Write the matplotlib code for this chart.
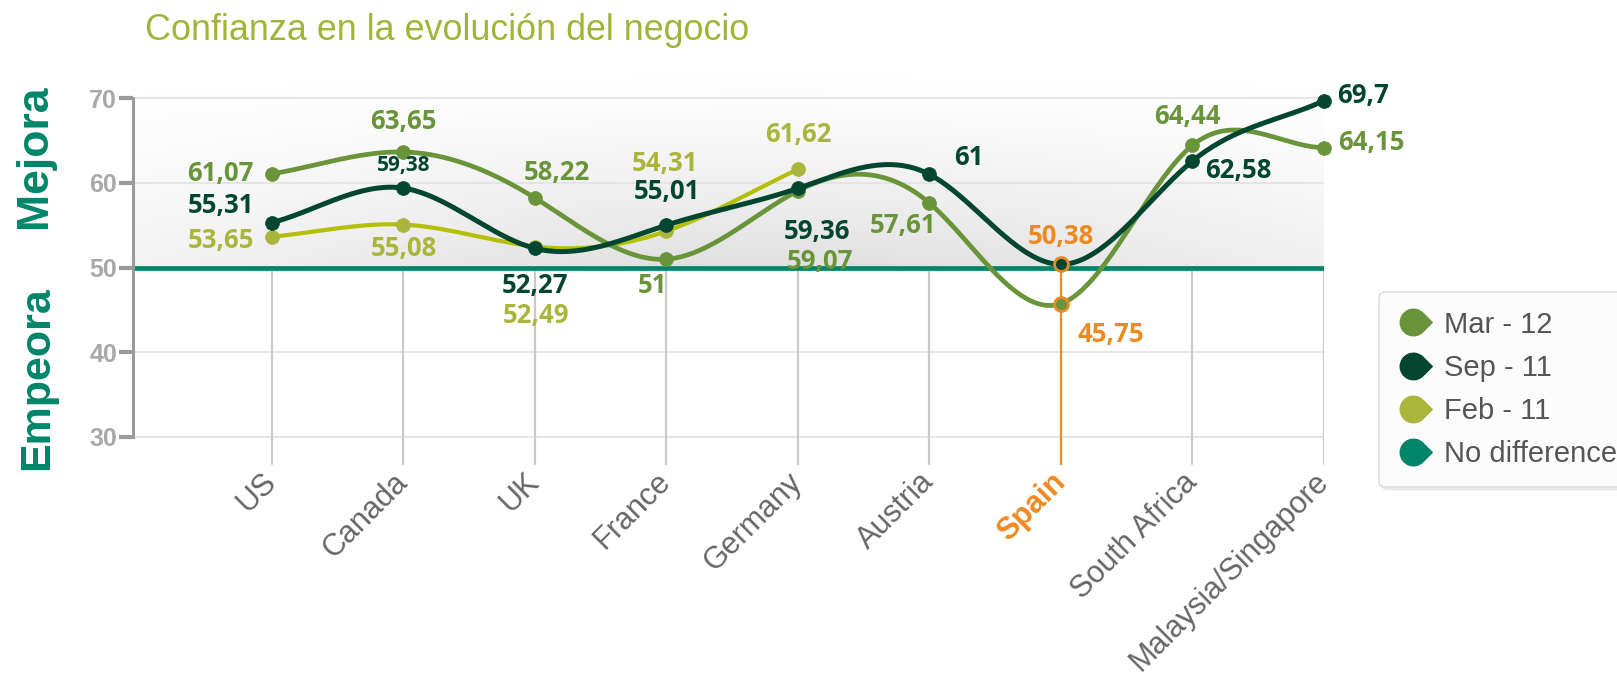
import numpy as np
import matplotlib
matplotlib.use("Agg")
from matplotlib import pyplot as plt
from matplotlib.path import Path
from matplotlib.lines import Line2D

countries = ["US", "Canada", "UK", "France", "Germany", "Austria", "Spain",
             "South Africa", "Malaysia/Singapore"]
mar12 = [61.07, 63.65, 58.22, 51, 59.07, 57.61, 45.75, 64.44, 64.15]
sep11 = [55.31, 59.38, 52.27, 55.01, 59.36, 61, 50.38, 62.58, 69.7]
feb11 = [53.65, 55.08, 52.49, 54.31, 61.62]
legend_labels = ["Mar - 12", "Sep - 11", "Feb - 11", "No difference"]
yticks = [30, 40, 50, 60, 70]
baseline = 50
highlight = "Spain"
title = "Confianza en la evolución del negocio"

# where each value label sits relative to its point (points)
mar12_off = [(-37, 0), (0, 22), (16, 18), (-10, -19), (16, -51), (-19, -16), (36, -22), (-4, 21), (34, 4)]
sep11_off = [(-37, 12), (0, 16), (0, -27), (0, 24), (14, -31), (28, 12), (0, 20), (33, -7), (28, 4)]
feb11_off = [(-37, -3), (0, -17), (1, -50), (-1, 49), (0, 25)]

c_mar = "#6a943a"
c_sep = "#03462f"
c_feb = "#aab63b"
c_feb_line = "#b4c007"
c_teal = "#00856a"
c_orange = "#ec8a22"
c_title = "#9fb53a"

W, H = 1617, 676
fig = plt.figure(figsize=(W / 100, H / 100), dpi=100)
ax = fig.add_axes([133 / W, (H - 465) / H, 1191 / W, 405 / H])

ybot = 30 - (465 - 437) / 8.47
ytop = ybot + 405 / 8.47
xl = -1.057
n = len(countries)
sp = countries.index(highlight)


def smooth(y, steps=40):
    # cubic spline, end slopes equal to the end chords
    y = np.asarray(y, float)
    k = len(y)
    A = np.zeros((k, k))
    d = np.zeros(k)
    A[0, 0], A[0, 1] = 2, 1
    A[-1, -1], A[-1, -2] = 2, 1
    for i in range(1, k - 1):
        A[i, i - 1], A[i, i], A[i, i + 1] = 1, 4, 1
        d[i] = 6 * (y[i + 1] - 2 * y[i] + y[i - 1])
    M = np.linalg.solve(A, d)
    xs, ys = [], []
    t = np.linspace(0, 1, steps)
    for i in range(k - 1):
        s = (1 - t) * y[i] + t * y[i + 1] + (((1 - t) ** 3 - (1 - t)) * M[i] + (t ** 3 - t) * M[i + 1]) / 6
        xs.append(i + t)
        ys.append(s)
    return np.concatenate(xs), np.concatenate(ys)


# soft grey glow above the baseline
gx = np.linspace(xl, n - 1, 300)
gy = np.linspace(baseline, ytop, 100)
GX, GY = np.meshgrid(gx, gy)
shade = 0.12 * np.exp(-((GX - 3.8) / 5.0) ** 2) * np.clip((ytop - GY) / (ytop - baseline), 0, 1) ** 1.4
ax.imshow(np.dstack([1 - shade] * 3), extent=(xl, n - 1, baseline, ytop), origin="lower",
          aspect="auto", zorder=0, interpolation="bilinear")

ax.hlines([v for v in yticks if v != baseline], xl, n - 1, color="#e2e2e2", lw=1.2, zorder=1)
ax.vlines([i for i in range(n) if i != sp], ybot, baseline, color="#c9c9c9", lw=1.6, zorder=1)
ax.vlines(sp, ybot, sep11[sp], color=c_orange, lw=1.6, zorder=2)
ax.hlines(baseline, xl, n - 1, color=c_teal, lw=3.4, zorder=3)

series = [
    (feb11, c_feb_line, c_feb, 3.0, feb11_off, 4),
    (mar12, c_mar, c_mar, 3.4, mar12_off, 5),
    (sep11, c_sep, c_sep, 3.6, sep11_off, 6),
]
for vals, lc, mc, lw, offs, z in series:
    sx, sy = smooth(vals)
    ax.plot(sx, sy, color=lc, lw=lw, zorder=z, solid_capstyle="round", clip_on=False)
    for i, v in enumerate(vals):
        edge = c_orange if i == sp else mc
        ax.plot(i, v, "o", ms=10, color=mc, mec=edge, mew=2 if i == sp else 0.5, zorder=z + 0.5, clip_on=False)
        txt = f"{v:g}".replace(".", ",")
        col = c_orange if i == sp else mc
        fs = 15 if (vals is sep11 and i == 1) else 18.5
        ax.annotate(txt, (i, v), xytext=offs[i], textcoords="offset points", ha="center", va="center",
                    fontsize=fs, fontweight="bold", family=["Open Sans", "DejaVu Sans"], color=col,
                    zorder=10, annotation_clip=False)

ax.set_xlim(xl, n - 1)
ax.set_ylim(ybot, ytop)
for s in ["top", "right", "bottom"]:
    ax.spines[s].set_visible(False)
ax.spines["left"].set_bounds(30, 70)
ax.spines["left"].set_color("#9a9a9a")
ax.spines["left"].set_linewidth(2.2)
ax.spines["left"].set_zorder(4)

ax.set_yticks(yticks)
ax.set_yticklabels([str(v) for v in yticks], fontsize=18, fontweight="bold",
                   family="Liberation Sans", color="#a8a8a8")
ax.tick_params(axis="y", length=10, width=3, color="#9a9a9a", pad=1.5)

ax.set_xticks(range(n))
ax.set_xticklabels(countries, rotation=45, ha="right", va="center", rotation_mode="anchor",
                   fontsize=22, family="Liberation Sans", color="#666666")
ax.tick_params(axis="x", length=0, pad=9)
lab = ax.get_xticklabels()[sp]
lab.set_color(c_orange)
lab.set_fontweight("bold")

fig.text(145 / W, 1 - 40 / H, title, fontsize=25.8, color=c_title, family="Liberation Sans",
         ha="left", va="baseline")
fig.text(35 / W, 1 - 156 / H, "Mejora", rotation=90, fontsize=32, fontweight="bold",
         color=c_teal, family="Liberation Sans", ha="center", va="center")
fig.text(37 / W, 1 - 378 / H, "Empeora", rotation=90, fontsize=31, fontweight="bold",
         color=c_teal, family="Liberation Sans", ha="center", va="center")

# leaf shaped legend marker
arc = Path.arc(45, 315)
verts = np.vstack([arc.vertices, [[np.sqrt(2), 0], arc.vertices[0]]])
codes = list(arc.codes) + [Path.LINETO, Path.CLOSEPOLY]
leaf = Path(verts, codes)

handles = [Line2D([], [], marker=leaf, ls="none", ms=27, color=c, mec=c)
           for c in [c_mar, c_sep, c_feb, c_teal]]
leg = fig.legend(handles, legend_labels, loc="upper left", bbox_to_anchor=(1379 / W, 1 - 292 / H),
                 borderaxespad=0, frameon=True, fancybox=True, borderpad=0.64, handlelength=1.05,
                 handletextpad=0.55, labelspacing=0.52, prop={"family": "Liberation Sans", "size": 21},
                 labelcolor="#555555", shadow={"color": "#e4e4e4", "alpha": 0.6})
leg.get_frame().set_facecolor("#fcfcfc")
leg.get_frame().set_edgecolor("#dedede")
leg.get_frame().set_linewidth(1.2)

fig.savefig("out.png", dpi=100)
